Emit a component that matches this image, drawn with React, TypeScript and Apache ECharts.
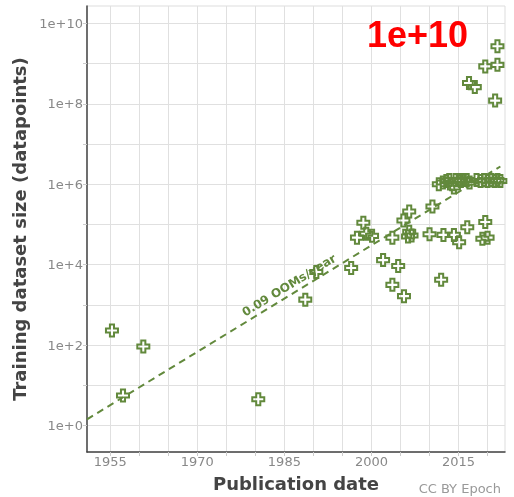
import React, { useEffect, useRef } from 'react';
import * as echarts from 'echarts';

const GREEN = '#62893c';

// Publication year (decimal) and training dataset size (datapoints)
const years = [
  1955.3, 1960.7, 1957.2, 1980.5, 1988.6, 1990.5, 1996.5, 1998.6, 1997.5, 1999.1,
  2000.1, 2003.6, 2002.0, 2004.6, 2003.6, 2005.6, 2006.5, 2005.5, 2006.5, 2006.9,
  2006.3, 2010.0, 2010.5, 2012.0, 2012.4, 2014.2, 2015.1, 2016.5, 2019.6, 2019.1,
  2020.0, 2021.7, 2019.6, 2021.7, 2016.8, 2017.8, 2021.3,
  2011.6, 2012.3, 2012.9, 2013.4, 2013.9, 2014.2, 2014.5, 2015.0, 2015.4, 2015.9,
  2016.4, 2016.9, 2018.1, 2018.8, 2019.4, 2020.0, 2020.6, 2021.2, 2021.7, 2022.2,
];
const sizes = [
  230, 92, 5.6, 4.5, 1350, 6600, 8300, 110000, 47000, 59000,
  52000, 47000, 13000, 9300, 3150, 1650, 210000, 125000, 66000, 53000,
  50000, 57000, 280000, 4200, 55000, 55000, 36000, 85000, 115000, 44000,
  47000, 2.7e9, 8.5e8, 9.3e8, 3.3e8, 2.6e8, 1.2e8,
  1.0e6, 1.1e6, 1.2e6, 1.28e6, 1.0e6, 8.3e5, 1.28e6, 1.28e6, 1.2e6, 1.28e6,
  1.28e6, 1.1e6, 1.28e6, 1.2e6, 1.28e6, 1.2e6, 1.28e6, 1.2e6, 1.28e6, 1.2e6,
];

const xTickValues = [1955, 1960, 1965, 1970, 1975, 1980, 1985, 1990, 1995, 2000, 2005, 2010, 2015, 2020];
const xLabelValues = [1955, 1970, 1985, 2000, 2015];
const yTickValues = [1, 10, 1e2, 1e3, 1e4, 1e5, 1e6, 1e7, 1e8, 1e9, 1e10];
const yLabelValues = [1, 1e2, 1e4, 1e6, 1e8, 1e10];

const trendYears = [1951, 2022.2];
const trendSizes = [1.43, 2.76e6];
const trendLabel = '0.09 OOMs/year';

const CROSS = 'path://M3.3,0H6.7V3.3H10V6.7H6.7V10H3.3V6.7H0V3.3H3.3Z';

export default function App() {
  const ref = useRef<HTMLDivElement>(null);
  useEffect(() => {
    if (!ref.current) return;
    const chart = echarts.init(ref.current, undefined, { renderer: 'svg' });
    const labelFont = 'DejaVu Sans';
    chart.setOption({
      animation: false,
      title: {
        text: '1e+10',
        left: 367,
        top: 16,
        padding: 0,
        textStyle: { fontSize: 36, fontWeight: 'bold', color: '#ff0000', fontFamily: 'Liberation Sans' },
      },
      grid: {
        left: 87, right: 9, top: 6, bottom: 43,
        show: true, borderColor: '#dddddd', borderWidth: 1, backgroundColor: 'transparent',
      },
      xAxis: {
        type: 'value',
        min: 1951,
        max: 2023,
        name: 'Publication date',
        nameLocation: 'middle',
        nameGap: 22,
        nameTextStyle: { fontSize: 18, fontWeight: 'bold', color: '#444', fontFamily: labelFont },
        axisLine: { show: true, onZero: false, lineStyle: { color: '#444', width: 1.5 } },
        axisTick: { show: true, length: 4, lineStyle: { color: '#cccccc' }, customValues: xTickValues },
        axisLabel: {
          customValues: xLabelValues, margin: 3, color: '#888', fontSize: 13, fontFamily: labelFont,
          formatter: (v: number) => String(v),
        },
        splitLine: { show: true, lineStyle: { color: '#e0e0e0', width: 1 } },
      },
      yAxis: {
        type: 'log',
        logBase: 10,
        min: 0.22,
        max: 2.7e10,
        name: 'Training dataset size (datapoints)',
        nameLocation: 'middle',
        nameGap: 52,
        nameTextStyle: { fontSize: 18, fontWeight: 'bold', color: '#444', fontFamily: labelFont },
        axisLine: { show: true, lineStyle: { color: '#444', width: 1.5 } },
        axisTick: { show: true, length: 4, lineStyle: { color: '#cccccc' }, customValues: yTickValues },
        axisLabel: {
          customValues: yLabelValues, margin: 4, color: '#888', fontSize: 13, fontFamily: labelFont,
          formatter: (v: number) => '1e+' + Math.round(Math.log10(v)),
        },
        splitLine: { show: true, lineStyle: { color: '#e0e0e0', width: 1 } },
      },
      graphic: [
        {
          type: 'text',
          right: 13,
          top: 482,
          style: { text: 'CC BY Epoch', fontSize: 13, fill: '#999', fontFamily: labelFont },
        },
      ],
      series: [
        {
          type: 'scatter',
          data: years.map((y, i) => [y, sizes[i]]),
          symbol: CROSS,
          symbolSize: 12,
          itemStyle: { color: 'rgba(255,255,255,0)', borderColor: GREEN, borderWidth: 2, opacity: 1 },
          markLine: {
            silent: true,
            symbol: ['none', 'none'],
            lineStyle: { color: GREEN, type: [7, 5], width: 2 },
            label: {
              show: true, position: 'middle', formatter: trendLabel, color: GREEN,
              fontWeight: 'bold', fontSize: 12, fontFamily: labelFont, distance: 3,
            },
            data: [[
              { coord: [trendYears[0], trendSizes[0]] },
              { coord: [trendYears[1], trendSizes[1]] },
            ]],
          },
        },
      ],
    });
    return () => chart.dispose();
  }, []);
  return <div ref={ref} style={{ position: 'fixed', left: 0, top: 0, width: 514, height: 497 }} />;
}
